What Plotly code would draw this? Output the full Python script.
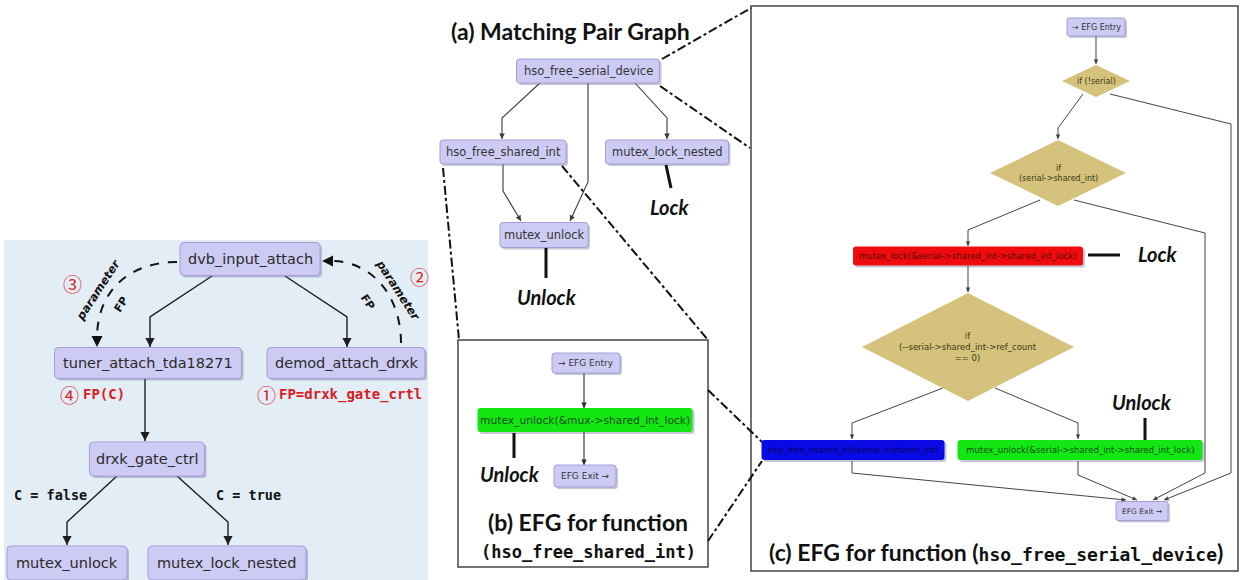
import plotly.graph_objects as go

# ---------------------------------------------------------------- labels
# Call graph with a function-pointer flow (left panel)
call_nodes = ["dvb_input_attach", "tuner_attach_tda18271", "demod_attach_drxk",
              "drxk_gate_ctrl", "mutex_unlock", "mutex_lock_nested"]
call_edges = [(0, 1), (0, 2), (1, 3), (3, 4), (3, 5)]
call_edge_labels = ["C = false", "C = true"]
fp_marks = ["①", "②", "③", "④"]
fp_texts = ["FP=drxk_gate_crtl", "FP(C)"]
arc_labels = ["parameter", "FP"]

# (a) Matching pair graph
mpg_title = "(a) Matching Pair Graph"
mpg_nodes = ["hso_free_serial_device", "hso_free_shared_int",
             "mutex_lock_nested", "mutex_unlock"]
mpg_edges = [(0, 1), (0, 2), (0, 3), (1, 3)]

# (b) EFG for hso_free_shared_int
efg_b_nodes = ["→ EFG Entry", "mutex_unlock(&mux->shared_int_lock)", "EFG Exit →"]
efg_b_title = ["(b) EFG for function", "(hso_free_shared_int)"]

# (c) EFG for hso_free_serial_device
efg_c_nodes = ["→ EFG Entry", "if (!serial)", "if\n(serial->shared_int)",
               "mutex_lock(&serial->shared_int->shared_int_lock)",
               "if\n(--serial->shared_int->ref_count\n== 0)",
               "hso_free_shared_int(serial->shared_int)",
               "mutex_unlock(&serial->shared_int->shared_int_lock)",
               "EFG Exit →"]
efg_c_title = ("(c) EFG for function (", "hso_free_serial_device", ")")
lock_words = ["Lock", "Unlock"]

# ---------------------------------------------------------------- styling
W, H = 1241, 580
NODE_FILL, NODE_LINE = "#cdcbf3", "#a29fd8"
SHADOW = "rgba(95,92,140,0.35)"
DIAMOND_FILL = "#d5c27c"
EDGE = "#2b2b2b"
SANS = "DejaVu Sans, Noto Sans CJK SC"
CIRCLED = "Noto Sans CJK SC, DejaVu Sans"
TITLE = "Lato, Open Sans, sans-serif"
MONO = "DejaVu Sans Mono, monospace"

shapes, annos = [], []


def esc(s):
    s = s.replace("&", "&amp;").replace(">", "&gt;")
    return s.replace("\n", "<br>")


def rrect(cx, cy, w, h, fill, line=None, r=4, shadow=True, lw=1):
    x0, x1, y0, y1 = cx - w / 2, cx + w / 2, cy - h / 2, cy + h / 2

    def path(dx, dy):
        a, b, c, d = x0 + dx, x1 + dx, y0 + dy, y1 + dy
        return (f"M {a + r},{c} L {b - r},{c} Q {b},{c} {b},{c + r} "
                f"L {b},{d - r} Q {b},{d} {b - r},{d} L {a + r},{d} "
                f"Q {a},{d} {a},{d - r} L {a},{c + r} Q {a},{c} {a + r},{c} Z")
    if shadow:
        shapes.append(dict(type="path", path=path(2, 2), fillcolor=SHADOW,
                           line=dict(width=0), layer="above"))
    shapes.append(dict(type="path", path=path(0, 0), fillcolor=fill,
                       line=dict(color=line or fill, width=lw if line else 0),
                       layer="above"))


def diamond(cx, cy, hw, hh):
    shapes.append(dict(type="path",
                       path=f"M {cx},{cy - hh} L {cx + hw},{cy} L {cx},{cy + hh} L {cx - hw},{cy} Z",
                       fillcolor=DIAMOND_FILL, line=dict(width=0), layer="above"))


def text(x, y, s, size, color="#222", family=SANS, angle=0, **kw):
    annos.append(dict(x=x, y=y, xref="x", yref="y", text=s, showarrow=False,
                      textangle=angle, font=dict(size=size, color=color, family=family),
                      xanchor="center", yanchor="middle", **kw))


def line(pts, color=EDGE, width=1.2, dash=None):
    p = "M " + " L ".join(f"{x},{y}" for x, y in pts)
    shapes.append(dict(type="path", path=p, line=dict(color=color, width=width,
                                                      dash=dash or "solid"),
                       layer="above"))


def edge(pts, color=EDGE, width=1.2, head=1.0):
    line(pts, color, width)
    (x0, y0), (x1, y1) = pts[-2], pts[-1]
    d = ((x1 - x0) ** 2 + (y1 - y0) ** 2) ** 0.5
    bx, by = x1 - (x1 - x0) / d * 6, y1 - (y1 - y0) / d * 6
    annos.append(dict(x=x1, y=y1, ax=bx, ay=by, xref="x", yref="y", axref="x",
                      ayref="y", text="", showarrow=True, arrowhead=2,
                      arrowsize=head, arrowwidth=width, arrowcolor=color, standoff=0))


def arc_arrow(path, tip, back, color="#111", width=2):
    shapes.append(dict(type="path", path=path, layer="above",
                       line=dict(color=color, width=width, dash="dash")))
    annos.append(dict(x=tip[0], y=tip[1], ax=back[0], ay=back[1], xref="x", yref="y",
                      axref="x", ayref="y", text="", showarrow=True, arrowhead=2,
                      arrowsize=1.1, arrowwidth=width, arrowcolor=color, standoff=0))


# ---------------------------------------------------------------- left panel
shapes.append(dict(type="rect", x0=4, x1=428, y0=240, y1=580,
                   fillcolor="#e3edf6", line=dict(width=0), layer="below"))
call_geom = [(250, 259, 140, 33), (148, 363, 187, 31), (346, 363, 158, 31),
             (147, 459, 115, 34), (67, 563, 120, 34), (227, 563, 158, 34)]
call_routes = {(0, 1): [(212, 276), (150, 317), (150, 347)],
               (0, 2): [(285, 276), (347, 317), (347, 347)],
               (1, 3): [(145, 379), (145, 441)],
               (3, 4): [(117, 476), (67, 522), (67, 545)],
               (3, 5): [(177, 476), (228, 522), (228, 545)]}
for e in call_edges:
    edge(call_routes[e], color="#1e1e1e", width=1.4, head=1.3)
for lab, (cx, cy, w, h) in zip(call_nodes, call_geom):
    rrect(cx, cy, w, h, NODE_FILL, NODE_LINE, r=4)
    text(cx, cy, lab, 14.5, "#2a2a2a")

# function-pointer arcs
arc_arrow("M 177,262 C 128,262 97,292 97,338", (97, 347), (97, 338))
arc_arrow("M 401,343 C 401,296 372,261 331,261", (322, 261), (331, 261))
text(98, 290, f"<b><i>{arc_labels[0]}</i></b>", 11.5, "#111", SANS, angle=-57)
text(121, 304, f"<b>{arc_labels[1]}</b>", 11, "#111", SANS, angle=-57)
text(398, 290, f"<b><i>{arc_labels[0]}</i></b>", 11.5, "#111", SANS, angle=57)
text(368, 302, f"<b>{arc_labels[1]}</b>", 11, "#111", SANS, angle=57)

RED = "#d81c24"
text(72, 283, fp_marks[2], 19, RED, CIRCLED)
text(419, 276, fp_marks[1], 19, RED, CIRCLED)
text(69, 394, fp_marks[3], 19, RED, CIRCLED)
text(104, 394, f"<b>{fp_texts[1]}</b>", 14, RED, MONO)
text(266, 394, fp_marks[0], 19, RED, CIRCLED)
text(350, 394, f"<b>{fp_texts[0]}</b>", 14, RED, MONO)
text(50, 495, f"<b>{call_edge_labels[0]}</b>", 13.5, "#111", MONO)
text(248, 495, f"<b>{call_edge_labels[1]}</b>", 13.5, "#111", MONO)

# ---------------------------------------------------------------- (a) matching pair graph
text(570, 31, f"<b>{mpg_title}</b>", 23, "#111", TITLE)
mpg_geom = [(588, 71, 143, 24), (503, 152, 126, 24), (667, 152, 123, 24), (544, 235, 88, 25)]
mpg_routes = {(0, 1): [(540, 83), (502, 118), (502, 139)],
              (0, 2): [(635, 83), (667, 118), (667, 139)],
              (0, 3): [(588, 83), (588, 182), (570, 221)],
              (1, 3): [(503, 164), (503, 191), (521, 221)]}
for e in mpg_edges:
    edge(mpg_routes[e], color="#3a3a3a", width=1.1)
for lab, (cx, cy, w, h) in zip(mpg_nodes, mpg_geom):
    rrect(cx, cy, w, h, NODE_FILL, NODE_LINE, r=3)
    text(cx, cy, lab, 11.5, "#333")
line([(666, 165), (671, 188)], "#111", 3)
text(670, 207, f"<b><i>{lock_words[0]}</i></b>", 20, "#111", TITLE)
line([(546, 248), (546, 278)], "#111", 3)
text(547, 297, f"<b><i>{lock_words[1]}</i></b>", 20, "#111", TITLE)

# zoom connectors
DD = dict(color="#111", width=2, dash="dashdot")
for pts in ([(662, 59), (751, 8)], [(660, 86), (750, 148)],
            [(443, 168), (459, 340)], [(562, 166), (708, 340)],
            [(708, 390), (762, 442)], [(708, 541), (762, 461)]):
    line(pts, DD["color"], DD["width"], DD["dash"])

# ---------------------------------------------------------------- (b) EFG
shapes.append(dict(type="rect", x0=458, x1=708, y0=340, y1=567,
                   fillcolor="white", line=dict(color="#444", width=1.5), layer="below"))
edge([(584, 373), (584, 408)], width=1.1)
edge([(584, 432), (584, 465)], width=1.1)
rrect(586, 363, 68, 20, NODE_FILL, NODE_LINE, r=3)
text(586, 363, esc(efg_b_nodes[0]), 9, "#333")
rrect(585, 420, 215, 24, "#13e613", None, r=3, shadow=True)
text(585, 420, esc(efg_b_nodes[1]), 10.7, "#0b4d0b")
rrect(585, 476, 62, 22, NODE_FILL, NODE_LINE, r=3)
text(585, 476, esc(efg_b_nodes[2]), 9, "#333")
line([(514, 433), (514, 458)], "#111", 3)
text(510, 474, f"<b><i>{lock_words[1]}</i></b>", 20, "#111", TITLE)
text(588, 522, f"<b>{efg_b_title[0]}</b>", 23, "#111", TITLE)
text(588, 552, f"<b>{efg_b_title[1]}</b>", 17, "#111", MONO)

# ---------------------------------------------------------------- (c) EFG
shapes.append(dict(type="rect", x0=751, x1=1238, y0=6, y1=571,
                   fillcolor="white", line=dict(color="#444", width=1.5), layer="below"))
c_routes = [
    [(1096, 36), (1096, 64)],
    [(1083, 94), (1058, 128), (1058, 139)],
    [(1110, 94), (1231, 124), (1231, 473), (1164, 500)],
    [(1040, 200), (968, 230), (968, 246)],
    [(1074, 200), (1205, 233), (1205, 473), (1153, 500)],
    [(968, 266), (968, 292)],
    [(943, 388), (852, 423), (852, 439)],
    [(995, 388), (1078, 423), (1078, 439)],
    [(852, 461), (852, 473), (1126, 500)],
    [(1078, 461), (1078, 475), (1137, 500)],
]
for pts in c_routes:
    edge(pts, color="#444", width=1.0, head=0.9)

rrect(1096, 27, 58, 18, NODE_FILL, NODE_LINE, r=2)
text(1096, 27, esc(efg_c_nodes[0]), 8, "#333")
diamond(1096, 81, 34, 16)
text(1096, 81, esc(efg_c_nodes[1]), 8, "#3a3a10")
diamond(1058, 173, 68, 33)
text(1058, 173, esc(efg_c_nodes[2]), 8, "#3a3a10")
rrect(968, 256, 230, 19, "#f00c0c", None, r=3)
text(968, 256, esc(efg_c_nodes[3]), 8.6, "#5a0000")
diamond(968, 347, 106, 54)
text(968, 347, esc(efg_c_nodes[4]), 8.5, "#3a3a10")
rrect(853, 450, 183, 20, "#0a0ae6", None, r=3)
text(853, 450, esc(efg_c_nodes[5]), 8.6, "#05055a")
rrect(1080, 450, 245, 20, "#13e613", None, r=3)
text(1080, 450, esc(efg_c_nodes[6]), 8.6, "#0b4d0b")
rrect(1142, 511, 52, 19, NODE_FILL, NODE_LINE, r=2)
text(1142, 511, esc(efg_c_nodes[7]), 7.5, "#333")

line([(1088, 255), (1120, 255)], "#111", 3)
text(1158, 254, f"<b><i>{lock_words[0]}</i></b>", 20, "#111", TITLE)
line([(1145, 418), (1145, 440)], "#111", 3)
text(1142, 402, f"<b><i>{lock_words[1]}</i></b>", 20, "#111", TITLE)
text(996, 552,
     f"<b>{efg_c_title[0]}</b><span style='font-family:{MONO};font-size:18px'><b>{efg_c_title[1]}</b></span><b>{efg_c_title[2]}</b>",
     23, "#111", TITLE)

# ---------------------------------------------------------------- figure
fig = go.Figure()
fig.update_layout(
    width=W, height=H, margin=dict(l=0, r=0, t=0, b=0),
    paper_bgcolor="white", plot_bgcolor="white",
    xaxis=dict(range=[0, W], visible=False, fixedrange=True),
    yaxis=dict(range=[H, 0], visible=False, fixedrange=True),
    shapes=shapes, annotations=annos, showlegend=False,
)
fig.write_html("out.html")
